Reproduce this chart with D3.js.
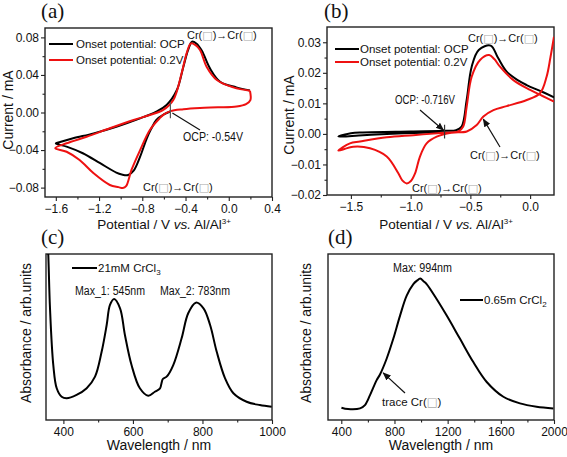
<!DOCTYPE html>
<html><head><meta charset="utf-8">
<script src="https://cdn.jsdelivr.net/npm/d3@7"></script>
<style>
body{margin:0;background:#fff;}
text{font-family:"Liberation Sans",Arial,sans-serif;fill:#111;}
.lbl{font-family:"Liberation Serif","Times New Roman",serif;font-size:21px;}
.bx{font-family:"DejaVu Sans",sans-serif;fill:#aaa;}
</style></head><body>
<svg id="c" width="567" height="457"></svg>
<script>
// ---- Panel (a): CV, [potential V, current mA]
const cvA_black = [[-0.54,0.001],[-0.60,-0.002],[-0.67,-0.008],[-0.72,-0.018],[-0.76,-0.028],[-0.82,-0.047],[-0.88,-0.062],[-0.93,-0.0666],[-0.99,-0.066],[-1.04,-0.064],[-1.19,-0.054],[-1.35,-0.0434],[-1.50,-0.0364],[-1.60,-0.033],[-1.56,-0.0315],[-1.44,-0.0275],[-1.25,-0.0222],[-1.04,-0.0151],[-0.82,-0.0062],[-0.67,0.001],[-0.575,0.008],[-0.48,0.024],[-0.42,0.0488],[-0.375,0.067],[-0.34,0.0754],[-0.30,0.0735],[-0.25,0.066],[-0.174,0.047],[-0.08,0.0328],[0.07,0.0268],[0.196,0.0235]];
const cvA_red = [[0.196,0.0232],[0.20,0.0133],[0.16,0.009],[0.073,0.0065],[-0.1,0.0055],[-0.266,0.0048],[-0.42,0.0035],[-0.54,0.0015],[-0.60,-0.002],[-0.64,-0.0062],[-0.73,-0.0186],[-0.82,-0.04],[-0.90,-0.0612],[-0.95,-0.0785],[-0.98,-0.0805],[-1.02,-0.0795],[-1.10,-0.0772],[-1.25,-0.0648],[-1.38,-0.0506],[-1.50,-0.0418],[-1.605,-0.038],[-1.50,-0.0328],[-1.315,-0.0258],[-1.10,-0.0168],[-0.88,-0.008],[-0.73,-0.0027],[-0.606,0.0027],[-0.513,0.0133],[-0.436,0.0417],[-0.39,0.063],[-0.35,0.0736],[-0.31,0.072],[-0.266,0.0666],[-0.205,0.0488],[-0.11,0.0346],[0.042,0.0268],[0.196,0.0232]];
const cvA_xTicks = [-1.6,-1.2,-0.8,-0.4,0.0,0.4];
const cvA_yTicks = [-0.08,-0.04,0.00,0.04,0.08];

// ---- Panel (b): CV
const cvB_black = [[-0.716,0.0008],[-0.9,0.0004],[-1.2,0.0],[-1.4,-0.0004],[-1.605,-0.0009],[-1.5,0.0002],[-1.4,0.0005],[-1.0,0.0008],[-0.7,0.001],[-0.62,0.0012],[-0.573,0.0024],[-0.531,0.0111],[-0.489,0.022],[-0.43,0.0275],[-0.33,0.0289],[-0.27,0.025],[-0.196,0.0204],[-0.1,0.0175],[-0.029,0.016],[0.1,0.0138],[0.2,0.012]];
const cvB_red = [[0.2,0.0318],[0.17,0.025],[0.138,0.0187],[0.083,0.0133],[-0.028,0.0111],[-0.196,0.0091],[-0.307,0.0078],[-0.391,0.0057],[-0.447,0.0029],[-0.53,0.0008],[-0.66,0.0004],[-0.782,-0.0009],[-0.866,-0.0031],[-0.922,-0.0074],[-0.963,-0.0129],[-1.0,-0.0155],[-1.033,-0.0162],[-1.07,-0.0152],[-1.103,-0.0129],[-1.2,-0.0074],[-1.34,-0.0047],[-1.48,-0.0042],[-1.605,-0.0055],[-1.508,-0.0031],[-1.424,-0.0025],[-1.2,-0.0011],[-0.977,-0.0004],[-0.75,0.0003],[-0.6,0.0008],[-0.56,0.0024],[-0.531,0.0089],[-0.489,0.0187],[-0.419,0.0242],[-0.342,0.0258],[-0.3,0.0245],[-0.252,0.022],[-0.14,0.0176],[0.0,0.0144],[0.1,0.0125],[0.2,0.0106]];
const cvB_xTicks = [-1.5,-1.0,-0.5,0.0];
const cvB_yTicks = [-0.02,-0.01,0.00,0.01,0.02,0.03];

// ---- Panel (c): UV-vis 21mM CrCl3, [wavelength nm, absorbance]
const uvC = [[354,1.1],[356.6,0.994],[361.5,0.673],[371,0.331],[380.8,0.191],[395,0.14],[409.5,0.131],[438,0.151],[467,0.191],[491,0.261],[510,0.411],[524.5,0.572],[534,0.693],[546,0.729],[563,0.673],[577,0.512],[596,0.331],[620,0.191],[644,0.146],[663,0.17],[678,0.191],[682,0.22],[686,0.247],[697,0.261],[716,0.331],[740,0.492],[759,0.643],[781,0.707],[803,0.673],[822,0.572],[841,0.411],[865,0.251],[889,0.161],[927,0.11],[965,0.09],[999,0.08]];
const uvC_xTicks = [400,600,800,1000];

// ---- Panel (d): 0.65m CrCl2
const uvD = [[401,0.074],[451,0.066],[541,0.07],[578,0.09],[616,0.15],[666,0.24],[691,0.274],[741,0.369],[791,0.489],[842,0.629],[892,0.749],[942,0.819],[970,0.84],[994,0.852],[1020,0.835],[1042,0.819],[1117,0.729],[1193,0.629],[1293,0.489],[1393,0.349],[1494,0.229],[1619,0.14],[1744,0.1],[1869,0.08],[1995,0.07]];
const uvD_xTicks = [400,800,1200,1600,2000];

const svg = d3.select("#c");
const BOX = "□";

function fit(t, w){ t.attr("textLength",w).attr("lengthAdjust","spacingAndGlyphs"); return t; }
function crText(g, x, y){
  const t = g.append("text").attr("x",x).attr("y",y).attr("font-size",11);
  t.append("tspan").text("Cr(");
  t.append("tspan").attr("class","bx").text(BOX);
  t.append("tspan").text(")→Cr(");
  t.append("tspan").attr("class","bx").text(BOX);
  t.append("tspan").text(")");
}
function note(x,y,txt,w){ return fit(svg.append("text").attr("x",x).attr("y",y).attr("font-size",12).text(txt),w); }
function arrowDef(){
  const m = svg.append("defs").append("marker").attr("id","ah").attr("viewBox","0 0 10 10")
    .attr("refX",9).attr("refY",5).attr("markerWidth",7).attr("markerHeight",7).attr("orient","auto");
  m.append("path").attr("d","M0,1 L10,5 L0,9 Z").attr("fill","#111");
}
arrowDef();

function panel(o){
  const g = svg.append("g");
  const x = d3.scaleLinear().domain(o.xd).range([o.l,o.r]);
  const y = d3.scaleLinear().domain(o.yd).range([o.b,o.t]);
  const cid = "clip"+o.id;
  svg.select("defs").append("clipPath").attr("id",cid).append("rect")
    .attr("x",o.l).attr("y",o.t).attr("width",o.r-o.l).attr("height",o.b-o.t);
  const xa = d3.axisBottom(x).tickValues(o.xt).tickFormat(o.xf).tickSizeOuter(0).tickSize(4).tickPadding(3);
  g.append("g").attr("transform",`translate(0,${o.b})`).call(xa);
  const xm = d3.axisBottom(x).tickValues(o.xm).tickFormat("").tickSizeOuter(0).tickSize(2.5);
  g.append("g").attr("transform",`translate(0,${o.b})`).call(xm);
  if(o.yt){
    const ya = d3.axisLeft(y).tickValues(o.yt).tickFormat(d3.format(o.yfmt)).tickSizeOuter(0).tickSize(4).tickPadding(2);
    g.append("g").attr("transform",`translate(${o.l},0)`).call(ya);
    const ym = d3.axisLeft(y).tickValues(o.ym).tickFormat("").tickSizeOuter(0).tickSize(2.5);
    g.append("g").attr("transform",`translate(${o.l},0)`).call(ym);
  }
  g.selectAll(".tick text").attr("font-size",12).attr("font-family","Liberation Sans, Arial, sans-serif").attr("fill","#111");
  g.selectAll(".tick line").attr("stroke","#222").attr("stroke-width",1.1);
  g.selectAll(".domain").remove();
  g.append("rect").attr("x",o.l).attr("y",o.t).attr("width",o.r-o.l).attr("height",o.b-o.t)
    .attr("fill","none").attr("stroke","#222").attr("stroke-width",1.4);
  const line = d3.line().x(d=>x(d[0])).y(d=>y(d[1])).curve(d3.curveCatmullRom.alpha(0.5));
  const cg = g.append("g").attr("clip-path",`url(#${cid})`);
  o.series.forEach(s=>{
    cg.append("path").datum(s.data).attr("d",line).attr("fill","none")
      .attr("stroke",s.color).attr("stroke-width",2).attr("stroke-linejoin","round");
  });
  return {g,x,y};
}

function xTitleCV(g, cx, y){
  const t = g.append("text").attr("x",cx).attr("y",y).attr("text-anchor","middle").attr("font-size",13.5);
  t.append("tspan").text("Potential / V ");
  t.append("tspan").attr("font-style","italic").text("vs.");
  t.append("tspan").text(" Al/Al");
  t.append("tspan").attr("font-size",8).attr("dy",-5).text("3+");
}
function yTitle(g, cx, cy, txt){
  g.append("text").attr("transform",`translate(${cx},${cy}) rotate(-90)`).attr("text-anchor","middle")
    .attr("font-size",14).text(txt);
}
function legendText(x,y,txt){ return svg.append("text").attr("x",x).attr("y",y).attr("font-size",11.5).text(txt); }

// (a)
const A = panel({id:"a",l:45,r:272,t:28,b:197,xd:[-1.7,0.4],yd:[-0.09,0.09],
  xt:cvA_xTicks,xm:[-1.4,-1.0,-0.6,-0.2,0.2],xf:d3.format(".1f"),
  yt:cvA_yTicks,ym:[-0.06,-0.02,0.02,0.06],yfmt:".2f",
  series:[{data:cvA_black,color:"#000"},{data:cvA_red,color:"#ee1111"}]});
svg.append("text").attr("class","lbl").attr("x",41).attr("y",18).text("(a)");
yTitle(svg,13,110,"Current / mA");
xTitleCV(svg,164,229);
[["Onset potential: OCP","#000",44],["Onset potential: 0.2V","#ee1111",60]].forEach(d=>{
  svg.append("line").attr("x1",49).attr("x2",73).attr("y1",d[2]).attr("y2",d[2]).attr("stroke",d[1]).attr("stroke-width",2);
  legendText(76,d[2]+4,d[0]);
});
crText(svg,187,39);
crText(svg,143,191);
svg.append("line").attr("x1",A.x(-0.54)).attr("x2",A.x(-0.54)).attr("y1",A.y(0.011)).attr("y2",A.y(-0.006)).attr("stroke","#555").attr("stroke-width",1.2);
svg.append("line").attr("x1",200).attr("y1",130).attr("x2",A.x(-0.54)+2).attr("y2",113).attr("stroke","#111").attr("stroke-width",1.2);
note(183,141,"OCP: -0.54V",60);

// (b)
const B = panel({id:"b",l:327,r:554,t:27,b:195,xd:[-1.7,0.2],yd:[-0.02,0.035],
  xt:cvB_xTicks,xm:[-1.25,-0.75,-0.25],xf:d3.format(".1f"),
  yt:cvB_yTicks,ym:[-0.015,-0.005,0.005,0.015,0.025],yfmt:".2f",
  series:[{data:cvB_black,color:"#000"},{data:cvB_red,color:"#ee1111"}]});
svg.append("text").attr("class","lbl").attr("x",324).attr("y",18).text("(b)");
yTitle(svg,294,115,"Current / mA");
xTitleCV(svg,446,229);
[["Onset potential: OCP","#000",49],["Onset potential: 0.2V","#ee1111",62]].forEach(d=>{
  svg.append("line").attr("x1",335).attr("x2",359).attr("y1",d[2]).attr("y2",d[2]).attr("stroke",d[1]).attr("stroke-width",2);
  legendText(360,d[2]+4,d[0]);
});
crText(svg,468,42);
crText(svg,470,159);
crText(svg,412,192);
svg.append("line").attr("x1",B.x(-0.716)).attr("x2",B.x(-0.716)).attr("y1",B.y(0.003)).attr("y2",B.y(-0.0015)).attr("stroke","#333").attr("stroke-width",1.2);
svg.append("line").attr("x1",420).attr("y1",110).attr("x2",B.x(-0.716)-1).attr("y2",B.y(0.0012)).attr("stroke","#111").attr("stroke-width",1.2).attr("marker-end","url(#ah)");
note(395,104,"OCP: -0.716V",60);
svg.append("line").attr("x1",500).attr("y1",147).attr("x2",B.x(-0.4)+1).attr("y2",B.y(0.0055)+2).attr("stroke","#111").attr("stroke-width",1.2).attr("marker-end","url(#ah)");

// (c)
const C = panel({id:"c",l:46,r:272,t:254,b:420,xd:[350,1000],yd:[0,1],
  xt:uvC_xTicks,xm:[500,700,900],xf:d3.format("d"),
  series:[{data:uvC,color:"#000"}]});
svg.append("text").attr("class","lbl").attr("x",41).attr("y",244).text("(c)");
yTitle(svg,31,333,"Absorbance / arb.units");
svg.append("text").attr("x",159).attr("y",450).attr("text-anchor","middle").attr("font-size",14).text("Wavelength / nm");
svg.append("line").attr("x1",72).attr("x2",97).attr("y1",268).attr("y2",268).attr("stroke","#000").attr("stroke-width",2);
{const t=svg.append("text").attr("x",98).attr("y",272).attr("font-size",11.5);
 t.append("tspan").text("21mM CrCl"); t.append("tspan").attr("font-size",8).attr("dy",3).text("3");}
note(75,295,"Max_1: 545nm",70);
note(160,295,"Max_2: 783nm",70);

// (d)
const D = panel({id:"d",l:328,r:554,t:254,b:420,xd:[300,2000],yd:[0,1],
  xt:uvD_xTicks,xm:[600,1000,1400,1800],xf:d3.format("d"),
  series:[{data:uvD,color:"#000"}]});
svg.append("text").attr("class","lbl").attr("x",328).attr("y",244).text("(d)");
yTitle(svg,311,333,"Absorbance / arb.units");
svg.append("text").attr("x",441).attr("y",450).attr("text-anchor","middle").attr("font-size",14).text("Wavelength / nm");
note(393,272,"Max: 994nm",59);
svg.append("line").attr("x1",460).attr("x2",483).attr("y1",300).attr("y2",300).attr("stroke","#000").attr("stroke-width",2);
{const t=svg.append("text").attr("x",484).attr("y",304).attr("font-size",11.5);
 t.append("tspan").text("0.65m CrCl"); t.append("tspan").attr("font-size",8).attr("dy",3).text("2");}
{const t=svg.append("text").attr("x",382).attr("y",406).attr("font-size",11.5);
 t.append("tspan").text("trace Cr("); t.append("tspan").attr("class","bx").text(BOX); t.append("tspan").text(")");}
svg.append("line").attr("x1",405).attr("y1",393).attr("x2",D.x(700)+2).attr("y2",D.y(0.29)+1).attr("stroke","#111").attr("stroke-width",1.2).attr("marker-end","url(#ah)");
</script></body></html>
